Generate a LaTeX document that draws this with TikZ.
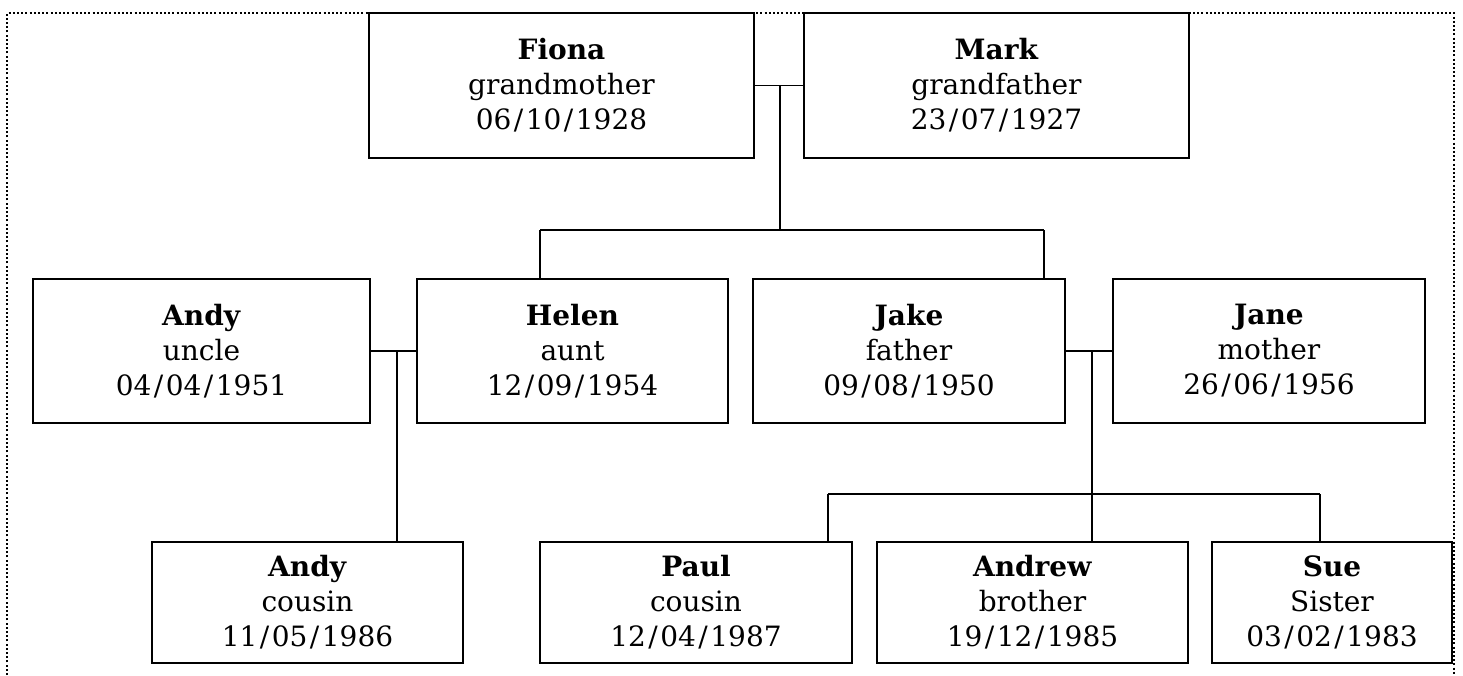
\documentclass[tikz,border=0pt]{standalone}
\usepackage{fontspec}
\setmainfont{DejaVu Serif}
\newcommand{\dmy}[3]{#1\kern2.5pt/\kern2.5pt#2\kern2.5pt/\kern2.5pt#3}
\begin{document}
\begin{tikzpicture}[x=1pt,y=-1pt,
  person/.style={draw,line width=1.8pt,rectangle,inner sep=0pt,align=center,
    font=\fontsize{28}{35}\selectfont},
  link/.style={line width=1.8pt},
  frame/.style={line width=2pt,dash pattern=on 2pt off 2.2pt}]
\useasboundingbox (0,0) rectangle (1463,675);
\draw[frame] (7,675) -- (7,13) -- (1454,13) -- (1454,675);
% generation 1
\node[person,minimum width=385pt,minimum height=145pt] (fiona) at (561.5,85.5) {\textbf{Fiona}\\grandmother\\\dmy{06}{10}{1928}};
\node[person,minimum width=385pt,minimum height=145pt] (mark) at (996.5,85.5) {\textbf{Mark}\\grandfather\\\dmy{23}{07}{1927}};
% generation 2
\node[person,minimum width=337pt,minimum height=144pt] (andy) at (201.5,351) {\textbf{Andy}\\uncle\\\dmy{04}{04}{1951}};
\node[person,minimum width=311pt,minimum height=144pt] (helen) at (572.5,351) {\textbf{Helen}\\aunt\\\dmy{12}{09}{1954}};
\node[person,minimum width=312pt,minimum height=144pt] (jake) at (909,351) {\textbf{Jake}\\father\\\dmy{09}{08}{1950}};
\node[person,minimum width=312pt,minimum height=144pt] (jane) at (1269,351) {\textbf{Jane}\\mother\\\dmy{26}{06}{1956}};
% generation 3
\node[person,minimum width=311pt,minimum height=121pt] (andyc) at (307.5,602.5) {\textbf{Andy}\\cousin\\\dmy{11}{05}{1986}};
\node[person,minimum width=312pt,minimum height=121pt] (paul) at (696,602.5) {\textbf{Paul}\\cousin\\\dmy{12}{04}{1987}};
\node[person,minimum width=311pt,minimum height=121pt] (andrew) at (1032.5,602.5) {\textbf{Andrew}\\brother\\\dmy{19}{12}{1985}};
\node[person,minimum width=240pt,minimum height=121pt] (sue) at (1332,602.5) {\textbf{Sue}\\Sister\\\dmy{03}{02}{1983}};
% couple 1
\coordinate (m1) at (780,85.5);
\coordinate (b1) at (780,230);
\coordinate (b1l) at (540,230);
\coordinate (b1r) at (1044,230);
\draw[link] (fiona.east) -- (mark.west);
\draw[link] (m1) -- (b1);
\draw[link] (b1l) -- (b1r);
\draw[link] (b1l) -- (b1l |- helen.north);
\draw[link] (b1r) -- (b1r |- jake.north);
% couple 2
\coordinate (m2) at (397,351);
\draw[link] (andy.east) -- (helen.west);
\draw[link] (m2) -- (m2 |- andyc.north);
% couple 3
\coordinate (m3) at (1092,351);
\coordinate (b3l) at (828,494);
\coordinate (b3r) at (1320,494);
\draw[link] (jake.east) -- (jane.west);
\draw[link] (m3) -- (m3 |- andrew.north);
\draw[link] (b3l) -- (b3r);
\draw[link] (b3l) -- (b3l |- paul.north);
\draw[link] (b3r) -- (b3r |- sue.north);
\end{tikzpicture}
\end{document}
